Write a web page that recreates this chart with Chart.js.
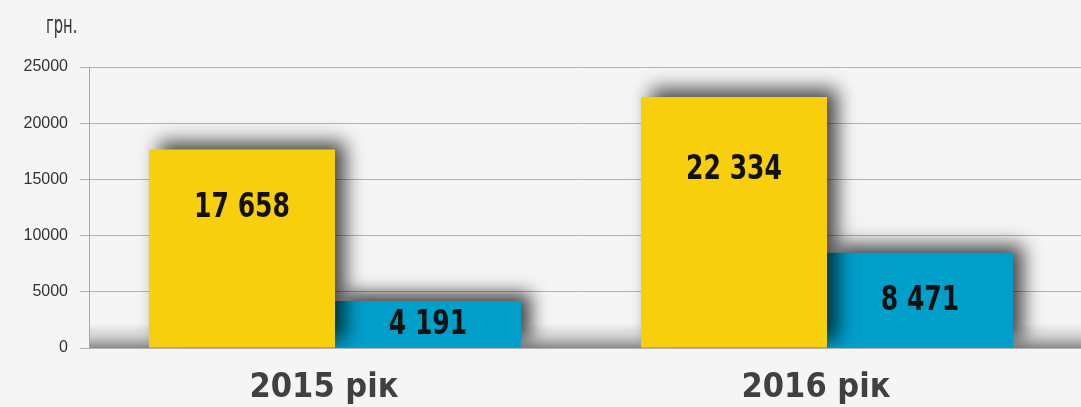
<!DOCTYPE html>
<html>
<head>
<meta charset="utf-8">
<script src="https://cdn.jsdelivr.net/npm/chart.js@4.4.1/dist/chart.umd.min.js"></script>
<style>
  html, body { margin: 0; padding: 0; background: #f5f5f5; }
  #wrap { width: 1081px; height: 407px; position: relative; }
  canvas { display: block; }
</style>
</head>
<body>
<div id="wrap"><canvas id="c" width="1081" height="407"></canvas></div>
<script>
const categories = ['2015 рік', '2016 рік'];
const seriesA = [17658, 22334];
const seriesB = [4191, 8471];
const seriesALabels = ['17 658', '22 334'];
const seriesBLabels = ['4 191', '8 471'];
const yTicks = [0, 5000, 10000, 15000, 20000, 25000];
const unitLabel = 'грн.';

const NARROW = "'DejaVu Sans Condensed', 'Liberation Sans', sans-serif";

function alignPx(p) { return Math.round(p - 0.5) + 0.5; }

function condensedText(ctx, text, x, y, sx) {
  ctx.save();
  ctx.translate(x, y);
  ctx.scale(sx, 1);
  ctx.fillText(text, 0, 0);
  ctx.restore();
}

const bgPlugin = {
  id: 'bg',
  beforeDraw(chart) {
    const ctx = chart.ctx;
    ctx.save();
    ctx.fillStyle = '#f5f5f5';
    ctx.fillRect(0, 0, chart.width, chart.height);
    ctx.restore();
  }
};

const decoPlugin = {
  id: 'deco',
  beforeDatasetsDraw(chart) {
    const ctx = chart.ctx;
    const ys = chart.scales.y;
    const area = chart.chartArea;
    ctx.save();
    // extend gridlines to right edge
    ctx.strokeStyle = '#b4b4b4';
    ctx.lineWidth = 1;
    yTicks.forEach(v => {
      const y = alignPx(ys.getPixelForValue(v));
      ctx.beginPath();
      ctx.moveTo(area.right, y);
      ctx.lineTo(chart.width, y);
      ctx.stroke();
    });
    // floor gradient band
    const y0 = ys.getPixelForValue(0);
    const g = ctx.createLinearGradient(0, y0 - 24, 0, y0);
    g.addColorStop(0, 'rgba(150,150,150,0)');
    g.addColorStop(0.4, 'rgba(175,175,175,0.4)');
    g.addColorStop(1, 'rgba(130,130,130,0.95)');
    ctx.fillStyle = g;
    ctx.fillRect(area.left + 1, y0 - 24, chart.width - area.left - 1, 24);
    // unit label
    ctx.fillStyle = '#333333';
    ctx.font = "24px " + NARROW;
    ctx.textAlign = 'left';
    ctx.textBaseline = 'alphabetic';
    condensedText(ctx, unitLabel, 46, 33, 0.68);
    ctx.restore();
    // shadow for bars
    ctx.save();
    ctx.shadowColor = 'rgba(0,0,0,0.72)';
    ctx.shadowBlur = 18;
    ctx.shadowOffsetX = 10;
    ctx.shadowOffsetY = -8;
  },
  afterDatasetsDraw(chart) {
    const ctx = chart.ctx;
    ctx.restore();
    ctx.save();
    ctx.fillStyle = '#111111';
    ctx.font = "bold 34px " + NARROW;
    ctx.textAlign = 'center';
    ctx.textBaseline = 'middle';
    const labelsets = [seriesALabels, seriesBLabels];
    chart.data.datasets.forEach((ds, di) => {
      const meta = chart.getDatasetMeta(di);
      meta.data.forEach((bar, i) => {
        const h = bar.base - bar.y;
        const y = di === 0 ? bar.y + h * 0.29 : bar.y + h / 2;
        condensedText(ctx, labelsets[di][i], bar.x, y + 1, 0.82);
      });
    });
    ctx.restore();
  }
};

new Chart(document.getElementById('c'), {
  type: 'bar',
  data: {
    labels: categories,
    datasets: [
      { data: seriesA, backgroundColor: '#f8cf0c', borderWidth: 0 },
      { data: seriesB, backgroundColor: '#009fca', borderWidth: 0 }
    ]
  },
  options: {
    responsive: false,
    animation: false,
    devicePixelRatio: 1,
    layout: { padding: { left: 0, right: 8, top: 67, bottom: 0 } },
    plugins: { legend: { display: false }, tooltip: { enabled: false } },
    datasets: { bar: { categoryPercentage: 0.756, barPercentage: 1 } },
    scales: {
      x: {
        grid: { display: false, drawTicks: false },
        border: { display: false },
        ticks: {
          color: '#404040',
          font: { family: NARROW, size: 34, weight: 'bold' },
          padding: 20,
          labelOffset: -11
        },
        afterFit(scale) { scale.height = 59; }
      },
      y: {
        min: 0,
        max: 25000,
        afterBuildTicks(scale) { scale.ticks = yTicks.map(v => ({ value: v })); },
        grid: { color: '#b4b4b4', lineWidth: 1, tickLength: 9, drawTicks: true },
        border: { display: true, color: '#a8a8a8' },
        ticks: {
          color: '#333333',
          font: { family: "'Liberation Sans', sans-serif", size: 16 },
          padding: 12,
          callback: v => String(v)
        },
        afterFit(scale) { scale.width = 89; }
      }
    }
  },
  plugins: [bgPlugin, decoPlugin]
});
</script>
</body>
</html>
